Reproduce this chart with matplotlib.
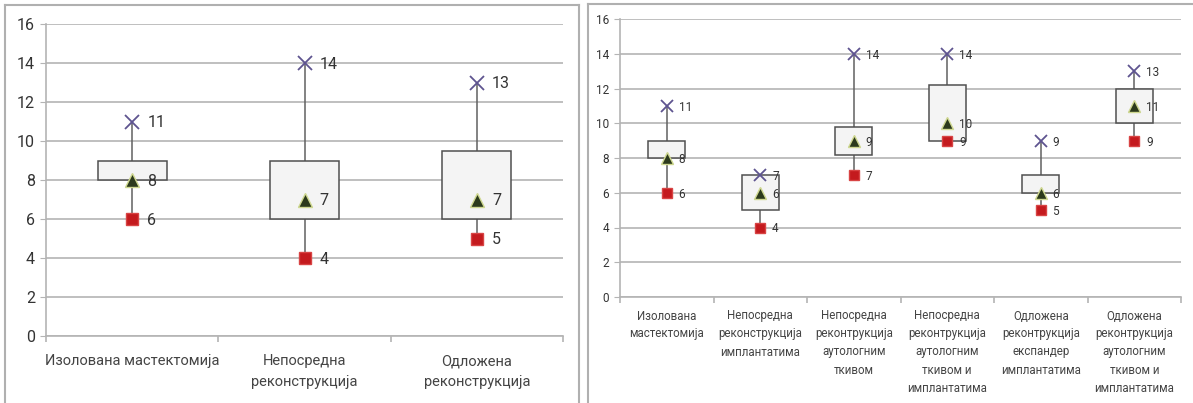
import matplotlib
matplotlib.use("Agg")
import matplotlib.pyplot as plt
from matplotlib.lines import Line2D

plt.rcParams['font.family'] = ['Roboto', 'DejaVu Sans']

# lijevi grafikon: tri grupe
left_cats = ['Изолована мастектомија', 'Непосредна\nреконструкција', 'Одложена\nреконструкција']
left_low = [8, 6, 6]
left_high = [9, 9, 9.5]
left_min = [6, 4, 5]
left_max = [11, 14, 13]
left_mid = [8, 7, 7]

# desni grafikon: šest podgrupa
right_cats = ['Изолована\nмастектомија',
              'Непосредна\nреконструкција\nимплантатима',
              'Непосредна\nреконтрукција\nаутологним\nткивом',
              'Непосредна\nреконтрукција\nаутологним\nткивом и\nимплантатима',
              'Одложена\nреконтрукција\nекспандер\nимплантатима',
              'Одложена\nреконтрукција\nаутологним\nткивом и\nимплантатима']
right_low = [8, 5, 8.2, 9, 6, 10]
right_high = [9, 7, 9.8, 12.2, 7, 12]
right_min = [6, 4, 7, 9, 5, 9]
right_max = [11, 7, 14, 14, 9, 13]
right_mid = [8, 6, 9, 10, 6, 11]

W, H = 1193, 403
fig = plt.figure(figsize=(W / 100, H / 100), dpi=100)


def px_axes(x0, y0, x1, y1):
    return fig.add_axes([x0 / W, 1 - y1 / H, (x1 - x0) / W, (y1 - y0) / H])


def draw_panel(ax, cats, low, high, vmin, vmax, mid, fs, tick_fs, ms, lab_dx, lsp, pad):
    n = len(cats)
    xs = list(range(n))
    ax.set_xlim(-0.5, n - 0.5)
    ax.set_ylim(0, 16)
    ax.set_yticks(range(0, 17, 2))
    ax.yaxis.grid(True, color='#b4b4b4', lw=1.2)
    ax.set_axisbelow(True)
    for s in ['top', 'right']:
        ax.spines[s].set_visible(False)
    for s in ['left', 'bottom']:
        ax.spines[s].set_color('#b4b4b4')
        ax.spines[s].set_linewidth(1.2)
    ax.tick_params(axis='y', length=4, color='#b4b4b4', labelsize=tick_fs, labelcolor='#333333', pad=4)
    ax.set_xticks(xs)
    ax.set_xticklabels(cats, fontsize=fs, color='#444444', linespacing=lsp)
    ax.tick_params(axis='x', which='major', length=0, pad=pad)
    ax.set_xticks([i - 0.5 for i in range(n + 1)], minor=True)
    ax.tick_params(axis='x', which='minor', length=4, color='#b4b4b4', width=1.2)

    for x, lo, hi, a, b, m in zip(xs, low, high, vmin, vmax, mid):
        ax.plot([x, x], [a, b], color='#606060', lw=1.1, zorder=2)
        ax.bar(x, hi - lo, bottom=lo, width=0.4, color='#f4f4f4',
               edgecolor='#505050', lw=1.1, zorder=3)
        ax.plot(x, b, marker='x', ms=ms, mew=1.3, color='#5e5490', zorder=4)
        ax.plot(x, a, marker='s', ms=ms * 0.85, color='#c41a1e', mec='#d84444', zorder=4)
        ax.plot(x, m, marker='^', ms=ms * 0.95, color='#2c3a1c', mec='#cfd890', mew=1.0, zorder=5)
        for v in (b, a, m):
            ax.annotate(f'{v:g}', (x, v), xytext=(lab_dx, -1), textcoords='offset points',
                        ha='left', va='center', fontsize=tick_fs, color='#333333', zorder=6)


ax1 = px_axes(46, 24, 563, 336)
draw_panel(ax1, left_cats, left_low, left_high, left_min, left_max, left_mid,
           fs=10.5, tick_fs=11.5, ms=10, lab_dx=11, lsp=1.6, pad=13)

ax2 = px_axes(620, 19, 1181, 297)
draw_panel(ax2, right_cats, right_low, right_high, right_min, right_max, right_mid,
           fs=8.3, tick_fs=8.5, ms=8.5, lab_dx=8.5, lsp=1.5, pad=9)

# okviri oko oba grafikona
def px_line(xa, ya, xb, yb):
    fig.add_artist(Line2D([xa / W, xb / W], [1 - ya / H, 1 - yb / H], color='#b0b0b0', lw=1.5))

px_line(5, 5, 579, 5)
px_line(5, 5, 5, 403)
px_line(579, 5, 579, 403)
px_line(588, 4, 1193, 4)
px_line(588, 4, 588, 403)

fig.savefig('out.png', dpi=100)
